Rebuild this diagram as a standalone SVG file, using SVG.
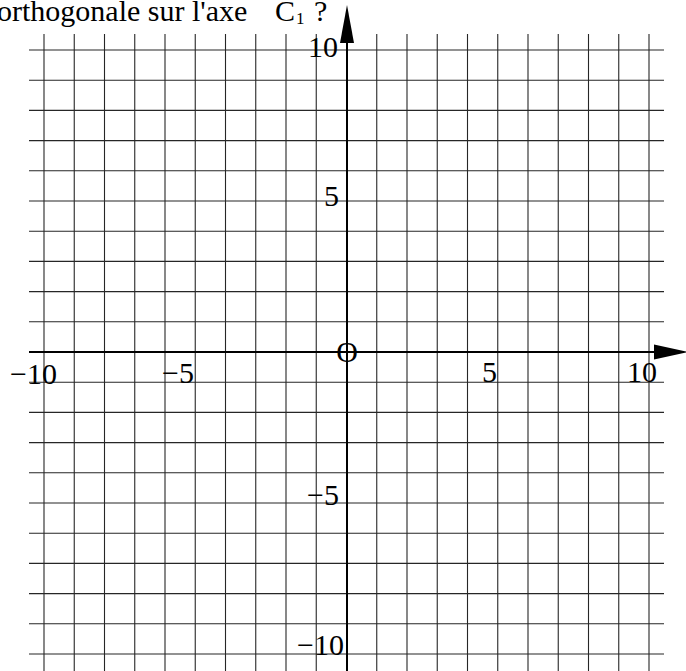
<svg xmlns="http://www.w3.org/2000/svg" width="686" height="671" viewBox="0 0 686 671">
<style>
.g{stroke:#262626;stroke-width:1.1;fill:none}
.ax{stroke:#000;stroke-width:2;fill:none}
.t{font-family:"Liberation Serif","Times New Roman",serif;font-size:30px;fill:#000}
</style>
<rect width="686" height="671" fill="#fff"/>
<g id="grid">
<g class="g">
<line x1="44" y1="34" x2="44" y2="671"/>
<line x1="74.25" y1="34" x2="74.25" y2="671"/>
<line x1="104.5" y1="34" x2="104.5" y2="671"/>
<line x1="134.75" y1="34" x2="134.75" y2="671"/>
<line x1="165" y1="34" x2="165" y2="671"/>
<line x1="195.25" y1="34" x2="195.25" y2="671"/>
<line x1="225.5" y1="34" x2="225.5" y2="671"/>
<line x1="255.75" y1="34" x2="255.75" y2="671"/>
<line x1="286" y1="34" x2="286" y2="671"/>
<line x1="316.25" y1="34" x2="316.25" y2="671"/>
<line x1="376.75" y1="34" x2="376.75" y2="671"/>
<line x1="407" y1="34" x2="407" y2="671"/>
<line x1="437.25" y1="34" x2="437.25" y2="671"/>
<line x1="467.5" y1="34" x2="467.5" y2="671"/>
<line x1="497.75" y1="34" x2="497.75" y2="671"/>
<line x1="528" y1="34" x2="528" y2="671"/>
<line x1="558.25" y1="34" x2="558.25" y2="671"/>
<line x1="588.5" y1="34" x2="588.5" y2="671"/>
<line x1="618.75" y1="34" x2="618.75" y2="671"/>
<line x1="649" y1="34" x2="649" y2="671"/>
<line x1="29" y1="50" x2="664" y2="50"/>
<line x1="29" y1="80.2" x2="664" y2="80.2"/>
<line x1="29" y1="110.4" x2="664" y2="110.4"/>
<line x1="29" y1="140.6" x2="664" y2="140.6"/>
<line x1="29" y1="170.8" x2="664" y2="170.8"/>
<line x1="29" y1="201" x2="664" y2="201"/>
<line x1="29" y1="231.2" x2="664" y2="231.2"/>
<line x1="29" y1="261.4" x2="664" y2="261.4"/>
<line x1="29" y1="291.6" x2="664" y2="291.6"/>
<line x1="29" y1="321.8" x2="664" y2="321.8"/>
<line x1="29" y1="382.2" x2="664" y2="382.2"/>
<line x1="29" y1="412.4" x2="664" y2="412.4"/>
<line x1="29" y1="442.6" x2="664" y2="442.6"/>
<line x1="29" y1="472.8" x2="664" y2="472.8"/>
<line x1="29" y1="503" x2="664" y2="503"/>
<line x1="29" y1="533.2" x2="664" y2="533.2"/>
<line x1="29" y1="563.4" x2="664" y2="563.4"/>
<line x1="29" y1="593.6" x2="664" y2="593.6"/>
<line x1="29" y1="623.8" x2="664" y2="623.8"/>
<line x1="29" y1="654" x2="664" y2="654"/>
</g>
</g>
<g id="axes">
<line class="ax" x1="29" y1="352" x2="656" y2="352"/>
<polygon points="654,344.5 688,352 654,359.5" fill="#000"/>
<line class="ax" x1="347" y1="671" x2="347" y2="40"/>
<polygon points="340,43 347,5 354,43" fill="#000"/>
</g>
<g id="labels" class="t">
<text x="-3" y="21">orthogonale sur l'axe<tspan x="275">C</tspan><tspan x="296" y="24" font-size="17">1</tspan><tspan x="314" y="21">?</tspan></text>
<text x="338" y="57" text-anchor="end">10</text>
<text x="339" y="206" text-anchor="end">5</text>
<text x="347" y="362" text-anchor="middle">O</text>
<text x="339" y="505" text-anchor="end">−5</text>
<text x="344" y="655" text-anchor="end">−10</text>
<text x="10" y="384">−10</text>
<text x="162" y="383">−5</text>
<text x="482" y="382">5</text>
<text x="627" y="382">10</text>
</g>
</svg>
